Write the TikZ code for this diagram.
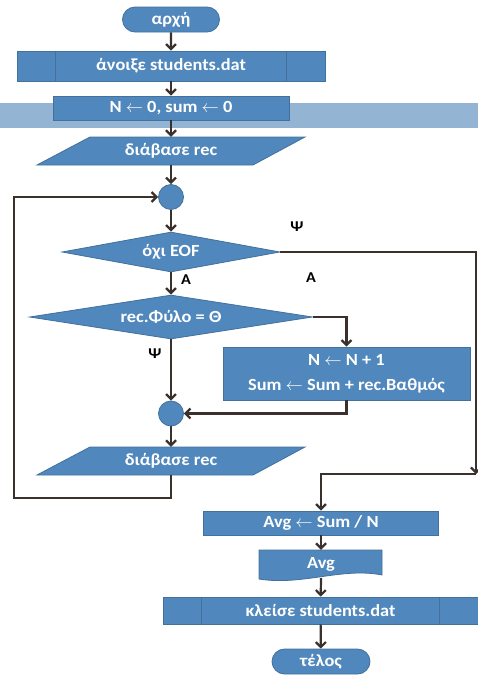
\documentclass[tikz,border=0pt]{standalone}
\usepackage{fontspec}
\setmainfont{Carlito}[FakeStretch=1.08]
\usetikzlibrary{arrows.meta,shapes.geometric,shapes.misc}
\definecolor{boxblue}{HTML}{5087BC}
\definecolor{boxedge}{HTML}{41719C}
\definecolor{flowc}{HTML}{3A302C}
\definecolor{bandblue}{HTML}{93B5D3}
\tikzset{
  shapebox/.style={fill=boxblue, draw=boxedge, line width=0.8pt, text=white,
    font=\fontsize{17}{19}\selectfont\bfseries, inner sep=0pt},
  plainbox/.style={shapebox, rectangle},
  termbox/.style={shapebox, rounded rectangle},
  joinbox/.style={shapebox, circle, minimum size=25pt},
  decbox/.style={shapebox, diamond},
  ghost/.style={rectangle, inner sep=0pt, text=white,
    font=\fontsize{17}{19}\selectfont\bfseries},
  flow/.style={draw=flowc, line width=2.2pt, -{Straight Barb[length=5pt,width=10pt]}},
  tag/.style={font=\fontsize{15}{17}\selectfont\bfseries, text=black},
}
\begin{document}
\begin{tikzpicture}[x=1pt, y=-1pt]
\useasboundingbox (0,0) rectangle (478,675);

% background band behind the initialisation step
\fill[bandblue] (0,103) rectangle (478,127.5);

% start / open file
\node[termbox, minimum width=97pt, minimum height=25pt] (start) at (171,19.5) {αρχή};
\node[plainbox, minimum width=308pt, minimum height=30pt] (open) at (171,66) {άνοιξε students.dat};
\draw[boxedge, line width=0.8pt] ([xshift=39pt]open.north west) -- ([xshift=39pt]open.south west)
  ([xshift=-39pt]open.north east) -- ([xshift=-39pt]open.south east);

% initialisation
\node[plainbox, minimum width=236pt, minimum height=24pt] (init) at (171,108) {N $\leftarrow$ 0, sum $\leftarrow$ 0};

% first read (parallelogram)
\fill[boxblue, draw=boxedge, line width=0.8pt] (90,137) -- (305,137) -- (253,165) -- (37,165) -- cycle;
\node[ghost, minimum width=215pt, minimum height=28pt] (read1) at (171,151) {διάβασε rec};

% loop junction
\node[joinbox] (c1) at (171,197) {};

% loop condition
\node[decbox, aspect=5.45, minimum width=218pt, minimum height=40pt] (d1) at (171,252) {όχι EOF};

% gender test
\node[decbox, aspect=6.4, minimum width=283pt, minimum height=44pt] (d2) at (171,317) {rec.Φύλο = Θ};

% update counters
\node[plainbox, minimum width=247pt, minimum height=53pt, align=center] (upd) at (346.5,373.5)
  {N $\leftarrow$ N + 1\\[6pt]Sum $\leftarrow$ Sum + rec.Βαθμός};

% merge junction
\node[joinbox] (c2) at (171,413.5) {};

% second read (parallelogram)
\fill[boxblue, draw=boxedge, line width=0.8pt] (90,447) -- (305,447) -- (253,475) -- (37,475) -- cycle;
\node[ghost, minimum width=215pt, minimum height=28pt] (read2) at (171,461) {διάβασε rec};

% average
\node[plainbox, minimum width=235pt, minimum height=24pt] (avg) at (321,523) {Avg $\leftarrow$ Sum / N};

% output (document shape)
\fill[boxblue, draw=boxedge, line width=0.8pt] (259,550) -- (382,550) -- (382,575)
  .. controls (342,567) and (302,586) .. (259,579) -- cycle;
\node[ghost, minimum width=123pt, minimum height=28pt] (out) at (321,564) {Avg};

% close file / end
\node[plainbox, minimum width=315pt, minimum height=27pt] (close) at (320.5,610.5) {κλείσε students.dat};
\draw[boxedge, line width=0.8pt] ([xshift=39pt]close.north west) -- ([xshift=39pt]close.south west)
  ([xshift=-39pt]close.north east) -- ([xshift=-39pt]close.south east);
\node[termbox, minimum width=98pt, minimum height=25pt] (end) at (321,661.5) {τέλος};

% branch labels
\node[tag] (t1) at (297,227) {Ψ};
\node[tag] (t2) at (186,280) {Α};
\node[tag] (t3) at (311,278) {Α};
\node[tag] (t4) at (155,354) {Ψ};

% helper points for the outer routes
\coordinate (cr) at (476,474);
\coordinate (lb) at (14,498);

% connectors
\draw[flow] (start) -- (open);
\draw[flow] (open) -- (init);
\draw[flow] (init) -- (read1.north);
\draw[flow] (read1.south) -- (c1);
\draw[flow] (c1) -- (d1);
\draw[flow] (d1) -- (d2);
\draw[flow] (d2.east) -- (d2.east -| upd.north) -- (upd.north);
\draw[flow] (upd.south) -- (upd.south |- c2.east) -- (c2.east);
\draw[flow] (d2) -- (c2);
\draw[flow] (c2) -- (read2.north);
\draw[flow] (read2.south) -- (read2.south |- lb) -- (lb) -- (lb |- c1.west) -- (c1.west);
\draw[flow] (d1.east) -- (d1.east -| cr) -- (cr);
\draw[flow] (cr) -- (cr -| avg.north) -- (avg.north);
\draw[flow] (avg) -- (out.north);
\draw[flow] (out.south) -- (close);
\draw[flow] (close) -- (end);
\end{tikzpicture}
\end{document}
